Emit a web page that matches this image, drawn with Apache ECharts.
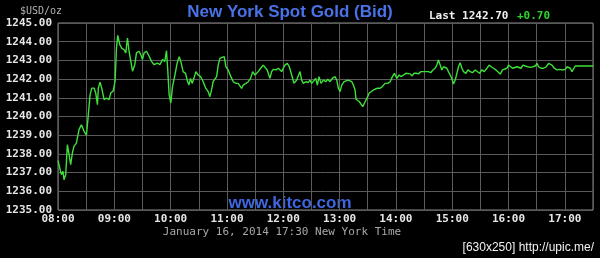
<!DOCTYPE html>
<html>
<head>
<meta charset="utf-8">
<script src="https://cdn.jsdelivr.net/npm/echarts@6/dist/echarts.min.js"></script>
<style>html,body{margin:0;padding:0;background:#000;}#c{width:600px;height:258px;}</style>
</head>
<body>
<div id="c"></div>
<script>
// minutes after 08:00 (New York time)
const minutes = [
0,1.8,3.6,5.3,6.4,8.2,10,11.8,13.5,15.3,17,19.6,22.4,24.9,27.8,30.3,32,34.2,36,38.4,
40.2,42,43,44.8,46.6,49.1,51.6,54.4,56.2,58.7,60.8,62.3,63.7,65.8,67.9,70.4,72.2,74,75.7,77.6,
79.4,81.8,83.6,86.4,88.2,90,91.7,94.3,97.1,99.6,102.4,106,108.5,111.3,113.8,115.6,117,118.4,120.2,122,
124.5,126.9,129.1,130.9,133.3,135.9,137.6,139.4,141.2,142.9,144.8,146.9,149.3,151.9,154.7,157.5,160,161.8,163.6,165.3,
167.2,169,170.7,172.5,174.9,177.1,178.9,181.3,184.2,186.7,189.5,192,193.8,195.6,197.3,200.2,202.7,205.2,207.4,209.8,
211.6,213.3,215.9,218.7,220.5,222.9,225.8,227.6,229.3,232.2,234.7,236.5,238.3,240,241.8,244.3,246.4,249,251.4,254.3,
257.8,259.6,261.3,263.9,266.7,268.5,270.3,272,274.6,276.3,278.1,280.2,282.7,285.2,287.4,289.8,292.3,295.1,297,298.7,
300.5,302.3,304.8,306.9,309.3,311.2,313,314.7,316.5,317.5,319.4,321.1,322.9,324.7,326.4,328.2,330,331.4,333.5,336,
337.8,340.3,343.2,345.6,348.5,351.4,353.8,356.3,358.4,359.9,361,363.4,365.6,368,370.6,372.7,375.2,377,379.4,381.6,
384,386.6,388.7,391.2,392.2,394.7,397.2,399.4,401.8,403.6,405.3,407.2,409,410.7,412.5,414.3,416,417.8,419.6,421.3,
423.2,425,426.7,428.5,430.3,432,434.6,436.7,439.2,441.6,444.5,446.3,449.1,451.6,454.1,457,459.4,461.6,464,466.6,
468.7,471.2,473.6,475.7,478.3,480,481.8,484.3,486.4,489,490.7,493.2,495.4,497.8,500.3,503.2,506,508.5,510.3,512,
514.6,517.3,520.2,522.7,524.5,526.3,528.8,531.6,534.4,537,538.7,540.5,542.3,544,545.8,547.6,549.3,551.1,554.7,570
];
// bid price, USD per ounce
const prices = [
1237.64,1237.69,1236.89,1237.07,1236.62,1236.89,1238.49,1237.96,1237.42,1238.05,1238.4,1238.58,1239.3,1239.56,1239.21,1239.0,1239.92,1241.17,1241.52,1241.52,
1241.26,1240.63,1241.52,1241.84,1241.52,1240.9,1240.99,1240.9,1241.26,1241.35,1241.88,1243.66,1244.34,1243.84,1243.66,1243.57,1243.4,1244.2,1243.49,1242.95,
1242.42,1242.77,1243.4,1243.49,1243.31,1243.04,1243.4,1243.49,1243.22,1242.95,1242.77,1242.86,1242.77,1243.04,1242.95,1243.52,1242.42,1241.17,1240.72,1241.6,
1242.2,1242.84,1243.2,1242.93,1242.4,1242.31,1241.95,1241.68,1242.04,1241.77,1242.04,1242.4,1242.22,1242.13,1241.86,1241.5,1241.33,1241.06,1241.42,1241.86,
1241.86,1242.13,1242.75,1243.11,1243.16,1243.2,1242.66,1242.49,1242.13,1241.86,1241.77,1241.77,1241.68,1241.5,1241.68,1241.77,1241.86,1242.04,1242.4,1242.22,
1242.13,1242.4,1242.58,1242.75,1242.84,1242.49,1242.04,1242.4,1242.52,1242.49,1242.58,1242.49,1242.4,1242.58,1242.75,1242.84,1242.66,1242.22,1241.77,1241.95,
1242.4,1241.95,1241.77,1241.86,1241.82,1241.95,1241.77,1241.68,1242.04,1241.68,1242.13,1241.77,1241.95,1241.86,1241.99,1241.86,1242.04,1242.13,1241.95,1241.51,
1241.33,1241.68,1241.86,1241.77,1241.95,1242.04,1241.86,1241.68,1241.42,1240.92,1240.88,1240.79,1240.71,1240.53,1240.71,1240.79,1241.06,1241.24,1241.33,1241.42,
1241.33,1241.51,1241.51,1241.6,1241.77,1241.77,1241.86,1242.13,1242.31,1242.34,1242.04,1242.22,1242.13,1242.22,1242.31,1242.34,1242.28,1242.17,1242.31,1242.31,
1242.28,1242.4,1242.49,1242.4,1242.31,1242.4,1242.34,1242.49,1242.58,1242.75,1243.02,1242.75,1242.49,1242.66,1242.75,1242.58,1242.4,1242.22,1242.04,1241.74,
1241.95,1242.31,1242.66,1242.88,1242.58,1242.4,1242.31,1242.49,1242.4,1242.34,1242.49,1242.4,1242.31,1242.49,1242.4,1242.58,1242.75,1242.66,1242.58,1242.49,
1242.4,1242.27,1242.49,1242.58,1242.58,1242.75,1242.66,1242.58,1242.58,1242.66,1242.7,1242.58,1242.75,1242.7,1242.66,1242.63,1242.66,1242.7,1242.84,1242.66,
1242.58,1242.58,1242.66,1242.84,1242.93,1242.75,1242.58,1242.49,1242.52,1242.49,1242.58,1242.52,1242.66,1242.75,1242.58,1242.4,1242.49,1242.7,1242.7,1242.7
];
const hourLabels = ['08:00','09:00','10:00','11:00','12:00','13:00','14:00','15:00','16:00','17:00'];
const titleText = 'New York Spot Gold (Bid)';
const unitText = '$USD/oz';
const lastText = 'Last 1242.70';
const changeText = '+0.70';
const siteText = 'www.kitco.com';
const dateText = 'January 16, 2014 17:30 New York Time';
const stampText = '[630x250] http://upic.me/';

const data = minutes.map((m, i) => [m, prices[i]]);
const mono = '"DejaVu Sans Mono", "Liberation Mono", monospace';

const chart = echarts.init(document.getElementById('c'), null, {renderer: 'canvas'});
chart.setOption({
  backgroundColor: '#000',
  animation: false,
  grid: {left: 58, top: 23, right: 7, bottom: 48, show: true, borderColor: '#8a8a8a', borderWidth: 1},
  xAxis: {
    type: 'value', min: 0, max: 570, interval: 30,
    axisLine: {show: false}, axisTick: {show: false},
    splitLine: {show: true, lineStyle: {color: '#5a5a5a', width: 1}},
    axisLabel: {
      color: '#e6e6e6', fontFamily: mono, fontSize: 11, fontWeight: 'bold', margin: 4,
      showMinLabel: true, showMaxLabel: true, hideOverlap: false,
      formatter: v => (v % 60 === 0 ? hourLabels[v / 60] || '' : '')
    }
  },
  yAxis: {
    type: 'value', min: 1235, max: 1245, interval: 1,
    axisLine: {show: false}, axisTick: {show: false},
    splitLine: {show: true, lineStyle: {color: '#5a5a5a', width: 1}},
    axisLabel: {color: '#e6e6e6', fontFamily: mono, fontSize: 11, fontWeight: 'bold', margin: 6,
      formatter: v => v.toFixed(2)}
  },
  series: [{
    type: 'line', data: data, showSymbol: false, symbol: 'none',
    lineStyle: {color: '#3ee03a', width: 1.4}
  }],
  graphic: [
    {type: 'text', style: {text: unitText, x: 20, y: 11, fill: '#b4b4b4', font: '10px ' + mono, textVerticalAlign: 'middle'}},
    {type: 'text', style: {text: titleText, x: 290, y: 12, fill: '#4a72e8', font: 'bold 17px "Liberation Sans", Arial, sans-serif', textAlign: 'center', textVerticalAlign: 'middle'}},
    {type: 'text', style: {text: lastText, x: 429, y: 16, fill: '#f0f0f0', font: 'bold 11px ' + mono, textVerticalAlign: 'middle'}},
    {type: 'text', style: {text: changeText, x: 517, y: 16, fill: '#2ed52e', font: 'bold 11px ' + mono, textVerticalAlign: 'middle'}},
    {type: 'text', style: {text: siteText, x: 290, y: 203, fill: '#3f66e0', font: 'bold 17px "Liberation Sans", Arial, sans-serif', textAlign: 'center', textVerticalAlign: 'middle'}},
    {type: 'text', style: {text: dateText, x: 282, y: 232, fill: '#a8a8a8', font: '11px ' + mono, textAlign: 'center', textVerticalAlign: 'middle'}},
    {type: 'text', style: {text: stampText, x: 594, y: 248, fill: '#f2f2f2', font: '12px "Liberation Sans Narrow", "Liberation Sans", sans-serif', textAlign: 'right', textVerticalAlign: 'middle'}}
  ]
});
</script>
</body>
</html>
